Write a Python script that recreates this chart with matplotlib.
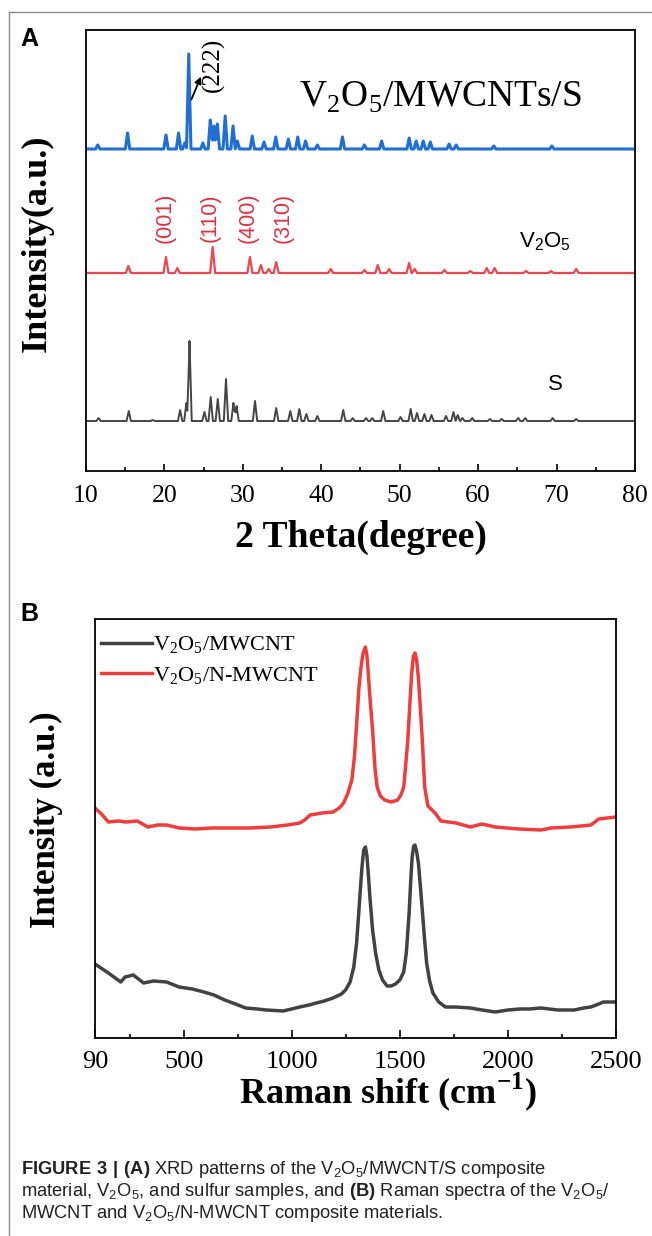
import numpy as np
import matplotlib
matplotlib.use('Agg')
import matplotlib.pyplot as plt
from matplotlib.lines import Line2D

plt.rcParams['font.family'] = ['Liberation Serif', 'DejaVu Serif']
plt.rcParams['mathtext.fontset'] = 'custom'
plt.rcParams['mathtext.rm'] = 'Liberation Serif'
plt.rcParams['mathtext.sf'] = 'Liberation Sans:bold'
plt.rcParams['axes.linewidth'] = 1.3

SANS = ['Liberation Sans', 'DejaVu Sans']

# ---------------- XRD data (2theta in degree, intensity a.u.) ----------------
s_pos = [11.6, 15.45, 18.5, 22.0, 22.8, 23.2, 25.1, 25.9, 26.8, 27.85, 28.8, 29.2,
         31.55, 34.25, 36.05, 37.2, 38.1, 39.5, 42.8, 44.0, 45.7, 46.5, 47.9, 50.1,
         51.4, 52.2, 53.15, 54.05, 55.9, 56.85, 57.4, 58.0, 59.25, 61.5, 63.0,
         65.1, 66.0, 69.5, 72.5]
s_int = [3, 10, 1, 11, 18, 80, 9, 24, 22, 42, 18, 15,
         20, 13, 10, 12, 7, 5, 11, 3, 3, 3, 10, 4,
         12, 8, 7, 6, 5, 9, 6, 3, 3, 2, 2,
         3, 3, 3, 2]

v_pos = [15.4, 20.2, 21.65, 26.15, 30.9, 32.3, 33.3, 34.25, 41.2, 45.5, 47.2, 48.65,
         51.2, 51.9, 55.7, 59.0, 61.1, 62.1, 66.1, 69.3, 72.5]
v_int = [7, 16, 5, 26, 16, 8, 4, 11, 4, 3, 8, 4,
         10, 4, 3, 2, 5, 5, 2, 2, 4]

c_pos = [11.5, 15.3, 20.2, 21.8, 22.6, 23.1, 24.9, 25.85, 26.3, 26.75, 27.75, 28.75,
         29.3, 31.2, 32.7, 34.2, 35.8, 37.0, 38.0, 39.5, 42.7, 45.5, 47.7, 51.2,
         52.1, 53.0, 53.9, 56.3, 57.2, 62.0, 69.4]
c_int = [4, 16, 14, 16, 6, 95, 6, 29, 23, 25, 33, 23,
         8, 13, 7, 12, 10, 12, 8, 4, 12, 4, 8, 11,
         8, 8, 7, 5, 4, 3, 3]

xrd_offsets = {'S': 50, 'V2O5': 198, 'V2O5/MWCNTs/S': 322}

# ---------------- Raman data ----------------
r_black_x = [90, 152, 209, 229, 267, 315, 360, 421, 479, 540, 594, 640, 690, 740, 787,
             840, 883, 960, 1000, 1037, 1080, 1114, 1150, 1191, 1230, 1249, 1270, 1287,
             1300, 1310, 1318, 1325, 1333, 1341, 1348, 1354, 1362, 1374, 1388, 1403,
             1420, 1441, 1460, 1480, 1500, 1518, 1530, 1543, 1550, 1557, 1564, 1570,
             1578, 1586, 1595, 1605, 1614, 1624, 1638, 1653, 1680, 1711, 1760, 1826,
             1880, 1942, 2000, 2057, 2100, 2153, 2230, 2307, 2350, 2384, 2420, 2442, 2500]
r_black_y = [74, 65, 56, 61, 63, 55, 57, 56, 51, 49, 46, 43, 38, 34, 30,
             29, 28, 27, 29, 31, 33, 35, 37, 40, 44, 48, 56, 71,
             95, 125, 150, 171, 188, 191, 182, 165, 140, 108, 85, 68,
             58, 52, 52, 54, 58, 66, 85, 125, 155, 181, 192, 193,
             186, 175, 152, 125, 100, 75, 57, 45, 36, 31, 31, 30,
             28, 26, 28, 29, 29, 30, 28, 28, 30, 31, 34, 36, 36]

r_red_x = [90, 120, 152, 200, 229, 286, 334, 380, 421, 480, 556, 630, 710, 800, 902,
           980, 1037, 1060, 1085, 1140, 1191, 1220, 1240, 1260, 1278, 1290, 1302, 1310,
           1320, 1330, 1341, 1348, 1354, 1362, 1374, 1385, 1395, 1410, 1430, 1460,
           1490, 1505, 1518, 1528, 1537, 1548, 1555, 1563, 1570, 1578, 1586, 1595,
           1604, 1615, 1630, 1663, 1690, 1760, 1826, 1880, 1942, 2050, 2153, 2200,
           2290, 2384, 2420, 2500]
r_red_y = [230, 224, 216, 217, 216, 217, 211, 213, 213, 210, 209, 210, 210, 210, 211,
           213, 215, 218, 223, 225, 226, 230, 235, 245, 258, 281, 320, 348,
           370, 385, 391, 382, 365, 340, 308, 270, 251, 242, 238, 236,
           238, 243, 251, 275, 298, 340, 365, 382, 385, 378, 360, 330,
           298, 251, 232, 225, 217, 215, 211, 214, 211, 209, 208, 210,
           211, 213, 219, 221]

xrd_ticks = [10, 20, 30, 40, 50, 60, 70, 80]
xrd_minor = [15, 25, 35, 45, 55, 65, 75]
raman_ticks = [90, 500, 1000, 1500, 2000, 2500]
raman_minor = [250, 750, 1250, 1750, 2250]

W, H = 652, 1236
fig = plt.figure(figsize=(W / 100, H / 100), dpi=100)


def fx(px):
    return px / W


def fy(py):
    return 1 - py / H


def pattern(pos, inten, hw):
    # each read peak drawn as a triangle of half-width hw; overlapping ones add up
    xs = [10.0, 80.0]
    for p in pos:
        xs += [p - hw, p, p + hw]
    xs = np.unique(np.array(xs))
    ys = np.zeros_like(xs)
    for p, h in zip(pos, inten):
        ys += np.interp(xs, [p - hw, p, p + hw], [0, h, 0], left=0, right=0)
    return xs, ys


# outer frame lines
fig.add_artist(Line2D([fx(9), 1], [fy(12), fy(12)], transform=fig.transFigure,
                      color='#8c8c8c', lw=1.0))
fig.add_artist(Line2D([fx(9), fx(9)], [fy(12), 0], transform=fig.transFigure,
                      color='#8c8c8c', lw=1.0))

# ---------------- Panel A ----------------
axA = fig.add_axes([fx(86), fy(471), (635 - 86) / W, (471 - 30) / H])
axA.set_xlim(10, 80)
axA.set_ylim(0, 441)

x, y = pattern(s_pos, s_int, 0.28)
axA.plot(x, y + xrd_offsets['S'], color='#454545', lw=1.4)
x, y = pattern(v_pos, v_int, 0.32)
axA.plot(x, y + xrd_offsets['V2O5'], color='#e84850', lw=1.6)
x, y = pattern(c_pos, c_int, 0.28)
axA.plot(x, y + xrd_offsets['V2O5/MWCNTs/S'], color='#1f6fd4', lw=2.2)

axA.set_xticks(xrd_ticks)
axA.set_xticks(xrd_minor, minor=True)
axA.set_yticks([])
axA.tick_params(axis='x', which='major', direction='in', length=5, width=1.2,
                labelsize=18.5, pad=10, top=False)
axA.tick_params(axis='x', which='minor', direction='in', length=3, width=1.2, top=False)

axA.text(37.2, 374, r'V$_\mathregular{2}$O$_\mathregular{5}$/MWCNTs/S', fontsize=27,
         ha='left', va='center')
axA.text(26.2, 406, '(222)', fontsize=18, rotation=90, ha='center', va='center')
axA.annotate('', xy=(24.8, 397), xytext=(23.3, 369),
             arrowprops=dict(arrowstyle='-|>', color='black', lw=1.3, mutation_scale=10))

hkl_labels = ['(001)', '(110)', '(400)', '(310)']
hkl_pos = [20.07, 25.8, 30.66, 35.1]
for lab, p in zip(hkl_labels, hkl_pos):
    axA.text(p, 253, lab, color='#e03040', fontsize=15.5, rotation=90,
             ha='center', va='center', family=SANS)
axA.text(68.5, 229, r'V$_\mathregular{2}$O$_\mathregular{5}$', fontsize=16,
         ha='center', va='center', family=SANS)
axA.text(69.8, 86, 'S', fontsize=16, ha='center', va='center', family=SANS)

fig.text(fx(37), fy(243), 'Intensity(a.u.)', rotation=90, fontsize=26,
         fontweight='bold', ha='center', va='center')
fig.text(fx(361), fy(537), '2 Theta(degree)', fontsize=27, fontweight='bold',
         ha='center', va='center')
fig.text(fx(29), fy(39), 'A', fontsize=18, fontweight='bold', family=SANS,
         ha='center', va='center')

# ---------------- Panel B ----------------
axB = fig.add_axes([fx(95), fy(1038), (616 - 95) / W, (1038 - 619) / H])
axB.set_xlim(90, 2500)
axB.set_ylim(0, 419)
axB.plot(r_black_x, r_black_y, color='#424242', lw=2.5,
         label=r'V$_\mathregular{2}$O$_\mathregular{5}$/MWCNT')
axB.plot(r_red_x, r_red_y, color='#f03c3c', lw=2.5,
         label=r'V$_\mathregular{2}$O$_\mathregular{5}$/N-MWCNT')
axB.set_xticks(raman_ticks)
axB.set_xticks(raman_minor, minor=True)
axB.set_yticks([])
axB.tick_params(axis='x', which='major', direction='in', length=6, width=1.2,
                labelsize=19, pad=9, top=False)
axB.tick_params(axis='x', which='minor', direction='in', length=3, width=1.2, top=False)
axB.legend(loc='upper left', bbox_to_anchor=(0.011, 0.963), frameon=False, fontsize=16,
           handlelength=2.3, handletextpad=0.05, labelspacing=0.4, borderaxespad=0,
           borderpad=0)

fig.text(fx(46), fy(820), 'Intensity (a.u.)', rotation=90, fontsize=25,
         fontweight='bold', ha='center', va='center')
fig.text(fx(388), fy(1092), r'Raman shift (cm$^\mathregular{-1}$)', fontsize=26,
         fontweight='bold', ha='center', va='center')
fig.text(fx(29), fy(614), 'B', fontsize=18, fontweight='bold', family=SANS,
         ha='center', va='center')

# ---------------- Caption ----------------
cap = [r'$\mathsf{FIGURE\ 3\ |\ (A)}$ XRD patterns of the V$_\mathregular{2}$O$_\mathregular{5}$/MWCNT/S composite',
       r'material, V$_\mathregular{2}$O$_\mathregular{5}$, and sulfur samples, and $\mathsf{(B)}$ Raman spectra of the V$_\mathregular{2}$O$_\mathregular{5}$/',
       r'MWCNT and V$_\mathregular{2}$O$_\mathregular{5}$/N-MWCNT composite materials.']
for i, line in enumerate(cap):
    fig.text(fx(21), fy(1170 + 21.7 * i), line, fontsize=13.2, family=SANS,
             color='#222222', ha='left', va='center')

fig.savefig('out.png', dpi=100)
